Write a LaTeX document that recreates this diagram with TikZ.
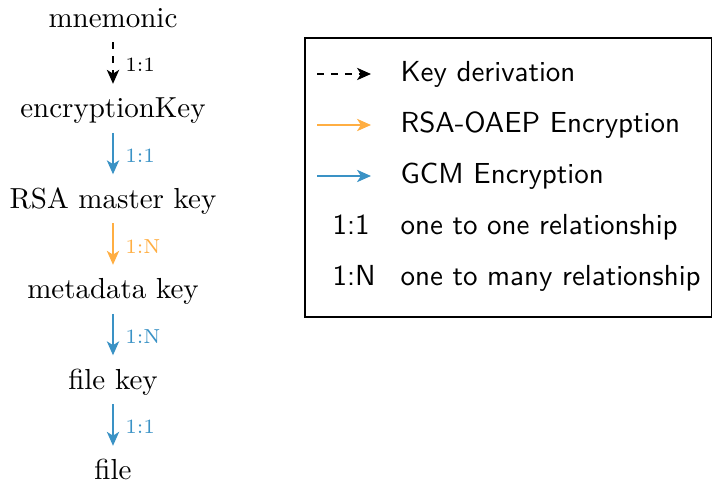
\documentclass[tikz,border=0pt]{standalone}
\usetikzlibrary{arrows.meta}
\definecolor{rsaorange}{RGB}{255,174,66}
\definecolor{gcmblue}{RGB}{58,146,197}
\begin{document}
\begin{tikzpicture}[x=0.345pt,y=-0.345pt,
  keynode/.style={inner xsep=0pt, inner ysep=3pt, text height=7pt, text depth=2pt},
  tip/.style={-{Stealth[length=4.8pt,width=4.2pt,inset=1.3pt]}},
  link/.style={tip, line width=0.75pt, shorten >=1.5pt},
  derive/.style={link, black, dash pattern=on 2.4pt off 2.4pt},
  rsa/.style={link, rsaorange},
  gcm/.style={link, gcmblue},
  ratio/.style={font=\scriptsize, anchor=west, inner sep=0pt, xshift=3.9pt},
  legtext/.style={font=\sffamily, anchor=base west, inner sep=0pt},
  legbox/.style={draw, line width=0.8pt}
]
\useasboundingbox (0,0) rectangle (712,486);

% key chain
\node[keynode] (mn)  at (113,20)    {mnemonic};
\node[keynode] (enc) at (113,110.5) {encryptionKey};
\node[keynode] (rsa) at (113,201)   {RSA master key};
\node[keynode] (md)  at (113,291.5) {metadata key};
\node[keynode] (fk)  at (113,382)   {file key};
\node[keynode] (f)   at (113,472.5) {file};

\draw[derive] (mn)  -- node[ratio, black]      {1:1} (enc);
\draw[gcm]    (enc) -- node[ratio, gcmblue]    {1:1} (rsa);
\draw[rsa]    (rsa) -- node[ratio, rsaorange]  {1:N} (md);
\draw[gcm]    (md)  -- node[ratio, gcmblue]    {1:N} (fk);
\draw[gcm]    (fk)  -- node[ratio, gcmblue]    {1:1} (f);

% legend
\node[legbox, minimum width=407*0.345pt, minimum height=279*0.345pt, anchor=north west, inner sep=0pt] (legend) at (304,37) {};

\coordinate (d0) at (317,74);  \coordinate (d1) at (371,74);
\coordinate (o0) at (317,125); \coordinate (o1) at (371,125);
\coordinate (g0) at (317,176); \coordinate (g1) at (371,176);
\draw[derive, shorten >=0pt] (d0) -- (d1);
\draw[rsa, shorten >=0pt] (o0) -- (o1);
\draw[gcm, shorten >=0pt] (g0) -- (g1);

\node[legtext] (t1) at (400,82)    {Key derivation};
\node[legtext] (t2) at (400,133)   {RSA-OAEP Encryption};
\node[legtext] (t3) at (400,184)   {GCM Encryption};
\node[legtext] (r1) at (332,234.5) {1:1};
\node[legtext] (t4) at (400,234.5) {one to one relationship};
\node[legtext] (r2) at (332,285.5) {1:N};
\node[legtext] (t5) at (400,285.5) {one to many relationship};
\end{tikzpicture}
\end{document}
